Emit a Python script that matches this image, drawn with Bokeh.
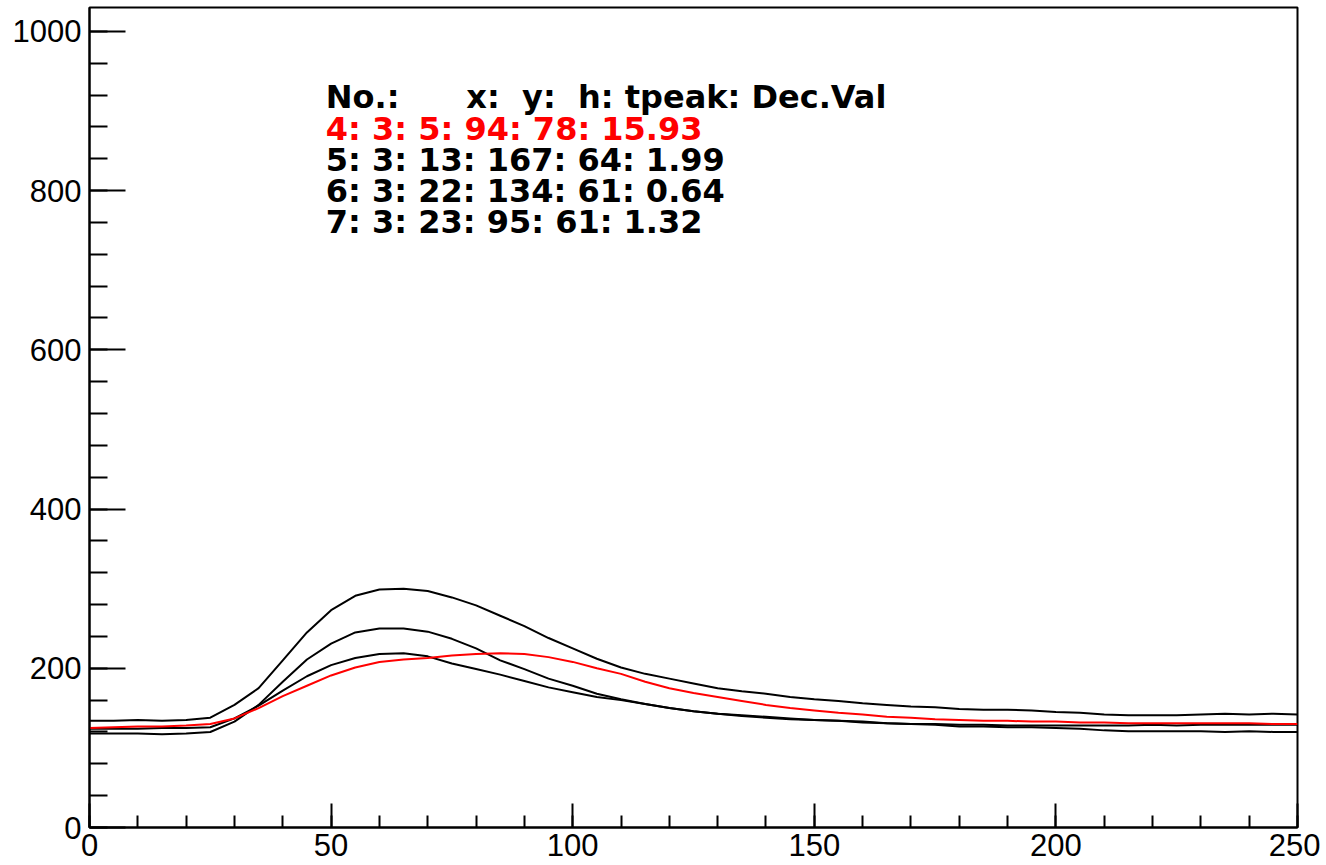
from bokeh.plotting import figure
from bokeh.models import Range1d, SingleIntervalTicker, Label
from bokeh.embed import file_html
from bokeh.resources import INLINE

# sample times
t = [0, 5, 10, 15, 20, 25, 30, 35, 40, 45, 50, 55, 60, 65, 70, 75, 80, 85, 90, 95,
     100, 105, 110, 115, 120, 125, 130, 135, 140, 145, 150, 155, 160, 165, 170, 175,
     180, 185, 190, 195, 200, 205, 210, 215, 220, 225, 230, 235, 240, 245, 250]

# No.4 (red)
wave4 = [125, 126, 127, 127, 128, 130, 137, 150, 165, 178, 191, 201, 208, 211, 213, 216,
         218, 219, 218, 214, 208, 200, 193, 183, 175, 169, 164, 159, 154, 150, 147, 144,
         142, 139, 138, 136, 135, 134, 134, 133, 133, 132, 132, 131, 131, 131, 131, 131,
         131, 130, 130]
# No.5
wave5 = [134, 134, 135, 134, 135, 138, 154, 175, 210, 245, 273, 291, 299, 300, 297, 289,
         279, 266, 253, 238, 225, 212, 201, 193, 187, 181, 175, 171, 168, 164, 161, 159,
         156, 154, 152, 151, 149, 148, 148, 147, 145, 144, 142, 141, 141, 141, 142, 143,
         142, 143, 142]
# No.6
wave6 = [118, 118, 118, 117, 118, 120, 133, 154, 183, 211, 231, 245, 250, 250, 246, 237,
         225, 210, 199, 187, 178, 168, 161, 155, 150, 146, 143, 141, 139, 137, 135, 134,
         132, 131, 130, 129, 127, 127, 126, 126, 125, 124, 122, 121, 121, 121, 121, 120,
         121, 120, 120]
# No.7
wave7 = [124, 124, 124, 125, 125, 126, 137, 153, 172, 190, 204, 213, 218, 219, 215, 206,
         199, 192, 184, 176, 170, 164, 160, 155, 150, 146, 143, 140, 138, 136, 135, 134,
         133, 131, 130, 130, 129, 129, 128, 128, 128, 128, 128, 128, 129, 128, 129, 129,
         129, 129, 129]

# table rows
row_no = [4, 5, 6, 7]
row_x = [3, 3, 3, 3]
row_y = [5, 13, 22, 23]
row_h = [94, 167, 134, 95]
row_tpeak = [78, 64, 61, 61]
row_dec = ["15.93", "1.99", "0.64", "1.32"]
row_colors = ["#ff0000", "black", "black", "black"]
header = "No.:\u00a0\u00a0\u00a0\u00a0\u00a0\u00a0x:\u00a0\u00a0y:\u00a0\u00a0h:\u00a0tpeak:\u00a0Dec.Val"

p = figure(width=1320, height=862, x_range=Range1d(0, 250), y_range=Range1d(0, 1030),
           output_backend="svg", toolbar_location=None,
           min_border_left=89, min_border_right=23, min_border_top=7, min_border_bottom=35)
p.background_fill_color = "white"
p.border_fill_color = "white"
p.xgrid.visible = False
p.ygrid.visible = False
p.outline_line_color = "black"
p.outline_line_width = 2

p.xaxis.ticker = SingleIntervalTicker(interval=50, num_minor_ticks=5)
p.yaxis.ticker = SingleIntervalTicker(interval=200, num_minor_ticks=5)
for ax in (p.xaxis, p.yaxis):
    ax.axis_line_width = 2
    ax.axis_line_color = "black"
    ax.major_tick_line_width = 2
    ax.minor_tick_line_width = 2
    ax.major_tick_line_color = "black"
    ax.minor_tick_line_color = "black"
    ax.major_tick_out = 0
    ax.minor_tick_out = 0
    ax.major_label_text_font = "Liberation Sans"
    ax.major_label_text_font_size = "31px"
    ax.major_label_text_color = "black"
p.xaxis.major_tick_in = 24
p.xaxis.minor_tick_in = 12
p.yaxis.major_tick_in = 36
p.yaxis.minor_tick_in = 18
p.xaxis.major_label_standoff = 6
p.yaxis.major_label_standoff = 8

for wave in (wave5, wave6, wave7):
    p.line(t, wave, line_color="black", line_width=2)
p.line(t, wave4, line_color="#ff0000", line_width=2)

baselines = [918, 878, 839, 800, 761]
p.add_layout(Label(x=48.9, y=baselines[0], text=header, text_font="DejaVu Sans",
                   text_font_style="bold", text_font_size="32px", text_color="black",
                   text_baseline="alphabetic"))
for i in range(len(row_no)):
    s = f"{row_no[i]}: {row_x[i]}: {row_y[i]}: {row_h[i]}: {row_tpeak[i]}: {row_dec[i]}"
    p.add_layout(Label(x=48.9, y=baselines[i + 1], text=s, text_font="DejaVu Sans",
                       text_font_style="bold", text_font_size="32px",
                       text_color=row_colors[i], text_baseline="alphabetic"))

open("out.html", "w").write(file_html(p, INLINE))
